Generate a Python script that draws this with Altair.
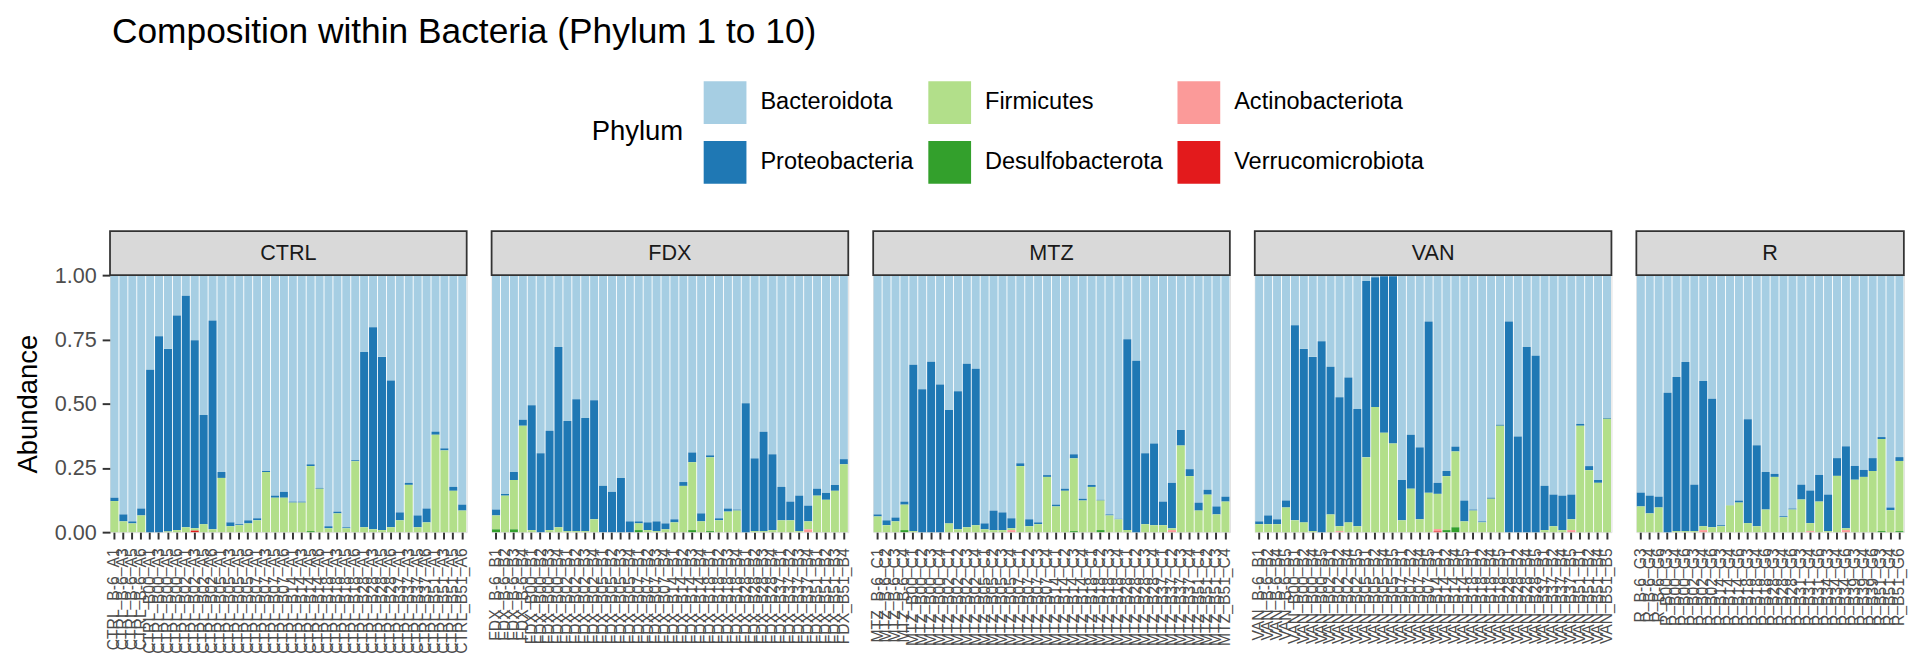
import altair as alt
import pandas as pd

GROUPS = ["CTRL", "FDX", "MTZ", "VAN", "R"]
PHYLA = ["Bacteroidota", "Proteobacteria", "Firmicutes", "Desulfobacterota",
         "Actinobacteriota", "Verrucomicrobiota"]
LEGEND_ORDER = ["Bacteroidota", "Firmicutes", "Actinobacteriota",
                "Proteobacteria", "Desulfobacterota", "Verrucomicrobiota"]
LEGEND_COLORS = ["#A6CEE3", "#B2DF8A", "#FB9A99", "#1F78B4", "#33A02C", "#E31A1C"]

DAYS_MAIN = ["-6", "00", "02", "05", "07", "14", "18", "28", "37", "51"]
DAYS_R = ["-6", "00", "02", "14", "18", "28", "31", "34", "39", "51"]
MICE = {"CTRL": ["A1", "A3", "A5", "A6"], "FDX": ["B1", "B2", "B3", "B4"],
        "MTZ": ["C1", "C2", "C3", "C4"], "VAN": ["B1", "B2", "B4", "B5"],
        "R": ["G3", "G4", "G6"]}

# ---- values (Bacteroidota is the remainder up to 1) ----
CTRL_PROTEO = [.013, .027, .008, .027, .632, .762, .710, .835, .901, .732, .425, .813, .023, .015, .004, .012, .008, .004, .008, .023,
               .004, .004, .007, .003, .008, .007, .004, .004, .682, .786, .674, .571, .031, .008, .046, .054, .012, .008, .015, .023]
CTRL_FIRMI = [.121, .042, .034, .065, 0, 0, .003, .008, .019, .009, .031, .011, .211, .023, .027, .034, .046, .234, .134, .134,
              .115, .115, .253, .169, .015, .073, .015, .276, .019, .011, .008, .019, .046, .184, .019, .038, .379, .318, .161, .084]
CTRL_DESULFO = [0] * 22 + [.004] + [0] * 17
CTRL_ACTINO = [0] * 40
CTRL_VERRU = [0] * 9 + [.006] + [0] * 30

FDX_PROTEO = [.023, .007, .031, .023, .486, .307, .387, .701, .429, .513, .440, .463, .180, .157, .211, .042, .008, .030, .038, .023,
              .012, .015, .038, .031, .008, .008, .012, .004, .502, .283, .387, .295, .130, .073, .138, .061, .027, .027, .023, .020]
FDX_FIRMI = [.054, .142, .192, .414, .008, 0, .008, .019, .004, .004, .004, .050, 0, 0, 0, 0, .026, .008, .004, .011,
             .038, .180, .264, .042, .287, .046, .080, .084, 0, .004, .004, .008, .046, .046, .004, .031, .142, .126, .161, .264]
FDX_DESULFO = [.011, 0, .011, 0, 0, 0, 0, 0, 0, 0, 0, 0, 0, 0, 0, 0, .008, 0, 0, 0,
               0, 0, .008, 0, .004, 0, 0, 0, 0, 0, 0, 0, 0, 0, 0, 0, 0, 0, 0, 0]
FDX_ACTINO = [0] * 35 + [.011] + [0] * 4
FDX_VERRU = [0] * 40

MTZ_PROTEO = [.008, .019, .015, .012, .647, .556, .663, .575, .441, .537, .636, .609, .023, .076, .069, .039, .011, .027, .007, .007,
              .007, .008, .016, .007, .008, .003, .004, .002, .743, .667, .276, .318, .092, .177, .061, .027, .031, .019, .031, .019]
MTZ_FIRMI = [.061, .027, .042, .099, .004, 0, 0, 0, .034, .011, .019, .027, .011, .008, .008, .007, .257, .023, .031, .215,
             .100, .161, .283, .123, .176, .115, .065, .050, .008, 0, .031, .027, .027, .007, .337, .218, .084, .146, .069, .119]
MTZ_DESULFO = [0, 0, 0, .008, 0, 0, 0, 0, 0, 0, 0, 0, 0, 0, 0, 0, 0, 0, 0, 0,
               0, 0, .004, 0, 0, .008, 0, 0, 0, 0, 0, 0, 0, 0, 0, 0, 0, 0, 0, 0]
MTZ_ACTINO = [0] * 15 + [.008] + [0] * 17 + [.008] + [0] * 6
MTZ_VERRU = [0] * 40

VAN_PROTEO = [.011, .034, .019, .027, .759, .675, .678, .743, .575, .502, .564, .456, .686, .505, .609, .651, .157, .210, .280, .667,
              .043, .020, .019, .081, .004, .004, .004, .004, .820, .372, .720, .686, .172, .123, .134, .096, .007, .016, .011, .003]
VAN_FIRMI = [.031, .031, .031, .096, .046, .038, .004, 0, .069, .019, .038, .023, .291, .487, .387, .345, .046, .169, .050, .153,
             .137, .210, .295, .042, .084, .038, .130, .414, 0, 0, 0, 0, .008, .023, .008, .042, .414, .241, .192, .441]
VAN_DESULFO = [0] * 21 + [.008, .019] + [0] * 17
VAN_ACTINO = [0] * 9 + [.004] + [0] * 10 + [.009] + [0] * 14 + [.008] + [0] * 4
VAN_VERRU = [0] * 20 + [.003] + [0] * 19

R_PROTEO = [.054, .069, .042, .542, .600, .658, .181, .565, .500, .004, .001, .008, .404, .315, .146,
            .012, .004, .004, .058, .127, .104, .142, .069, .319, .054, .027, .050, .008, .011, .015]
R_FIRMI = [.100, .073, .096, 0, .004, .004, .004, .015, .019, .023, .104, .115, .035, .023, .088,
           .215, .058, .088, .127, .031, .119, .004, .219, .007, .204, .215, .238, .358, .085, .273]
R_DESULFO = [0] * 27 + [.004, 0, .004]
R_ACTINO = [0] * 7 + [.008] + [0] * 11 + [.004] + [0] * 3 + [.008] + [0] * 6
R_VERRU = [0] * 30

VALUES = {
    "CTRL": [CTRL_PROTEO, CTRL_FIRMI, CTRL_DESULFO, CTRL_ACTINO, CTRL_VERRU],
    "FDX": [FDX_PROTEO, FDX_FIRMI, FDX_DESULFO, FDX_ACTINO, FDX_VERRU],
    "MTZ": [MTZ_PROTEO, MTZ_FIRMI, MTZ_DESULFO, MTZ_ACTINO, MTZ_VERRU],
    "VAN": [VAN_PROTEO, VAN_FIRMI, VAN_DESULFO, VAN_ACTINO, VAN_VERRU],
    "R": [R_PROTEO, R_FIRMI, R_DESULFO, R_ACTINO, R_VERRU],
}

STACK_IDX = {"Verrucomicrobiota": 0, "Actinobacteriota": 1, "Desulfobacterota": 2,
             "Firmicutes": 3, "Proteobacteria": 4, "Bacteroidota": 5}

SAMPLES = {}
rows = []
for g in GROUPS:
    days = DAYS_R if g == "R" else DAYS_MAIN
    samples = [f"{g}_B{d}_{m}" for d in days for m in MICE[g]]
    SAMPLES[g] = samples
    series = VALUES[g]
    for i, s in enumerate(samples):
        others = [series[k][i] for k in range(5)]
        vals = [round(1 - sum(others), 4)] + others
        for p, v in zip(PHYLA, vals):
            rows.append({"Group": g, "Sample": s, "Phylum": p, "Abundance": v,
                         "stack": STACK_IDX[p]})
df = pd.DataFrame(rows)

STEP = 9.09
PLOT_H = 262
FONT = "Liberation Sans"

color = alt.Color(
    "Phylum:N",
    scale=alt.Scale(domain=LEGEND_ORDER, range=LEGEND_COLORS),
    legend=alt.Legend(
        title="Phylum", orient="none", legendX=491, legendY=-198,
        direction="horizontal", columns=3, symbolType="square",
        symbolSize=1900, symbolStrokeWidth=0, symbolOpacity=1,
        labelFontSize=24, labelColor="black", labelFont=FONT, labelOffset=14,
        titleFontSize=28, titleColor="black", titleFont=FONT,
        titleFontWeight="normal", titleOrient="left", titleAnchor="middle",
        titlePadding=20, columnPadding=14, rowPadding=17, labelLimit=0,
    ),
)


def panel(g, first):
    d = df[df.Group == g]
    samples = SAMPLES[g]
    w = len(samples) * STEP
    if first:
        yaxis = alt.Axis(title="Abundance", values=[0, 0.25, 0.5, 0.75, 1.0],
                         format=".2f", labelFontSize=22, labelColor="#4D4D4D",
                         labelFont=FONT, titleFont=FONT, titleFontSize=28,
                         titleFontWeight="normal", titleColor="black",
                         tickColor="#333333", tickSize=8, tickWidth=2,
                         domain=False, grid=False, labelPadding=6,
                         titlePadding=12, labelFlush=False)
    else:
        yaxis = None
    bars = alt.Chart(d).mark_bar().encode(
        x=alt.X("Sample:N", sort=samples,
                scale=alt.Scale(paddingInner=0.1, paddingOuter=0.05),
                axis=alt.Axis(title=None, labelAngle=-90, labelFontSize=16,
                              labelColor="#4D4D4D", labelFont=FONT,
                              labelOverlap=False, labelPadding=9, labelLimit=0,
                              tickColor="#333333", tickSize=7, tickWidth=2,
                              domain=False, grid=False)),
        y=alt.Y("Abundance:Q", stack="zero",
                scale=alt.Scale(domain=[0, 1], nice=False, zero=True),
                axis=yaxis),
        color=color,
        order=alt.Order("stack:Q", sort="ascending"),
    )
    strip_df = pd.DataFrame({"Group": [g]})
    strip = alt.Chart(strip_df).mark_rect(
        fill="#D9D9D9", stroke="#333333", strokeWidth=1.8
    ).encode(x=alt.value(0), x2=alt.value(w), y=alt.value(-45), y2=alt.value(0))
    strip_text = alt.Chart(strip_df).mark_text(
        fontSize=22, color="#1A1A1A", font=FONT, baseline="middle", align="center"
    ).encode(text="Group:N", x=alt.value(w / 2), y=alt.value(-22))
    return alt.layer(bars, strip, strip_text).properties(width=w, height=PLOT_H)


chart = alt.hconcat(*[panel(g, i == 0) for i, g in enumerate(GROUPS)], spacing=16).resolve_scale(
    x="independent", y="shared", color="shared"
).properties(
    title=alt.TitleParams("Composition within Bacteria (Phylum 1 to 10)",
                          anchor="start", fontSize=36, fontWeight="normal",
                          color="black", font=FONT, frame="group", dx=2, offset=31),
    padding={"left": 6, "top": 0, "right": 4, "bottom": 0},
).configure_view(stroke="#333333", strokeWidth=1.8).configure(background="white")

chart.save("out.html", embed_options={"renderer": "svg", "actions": False})
